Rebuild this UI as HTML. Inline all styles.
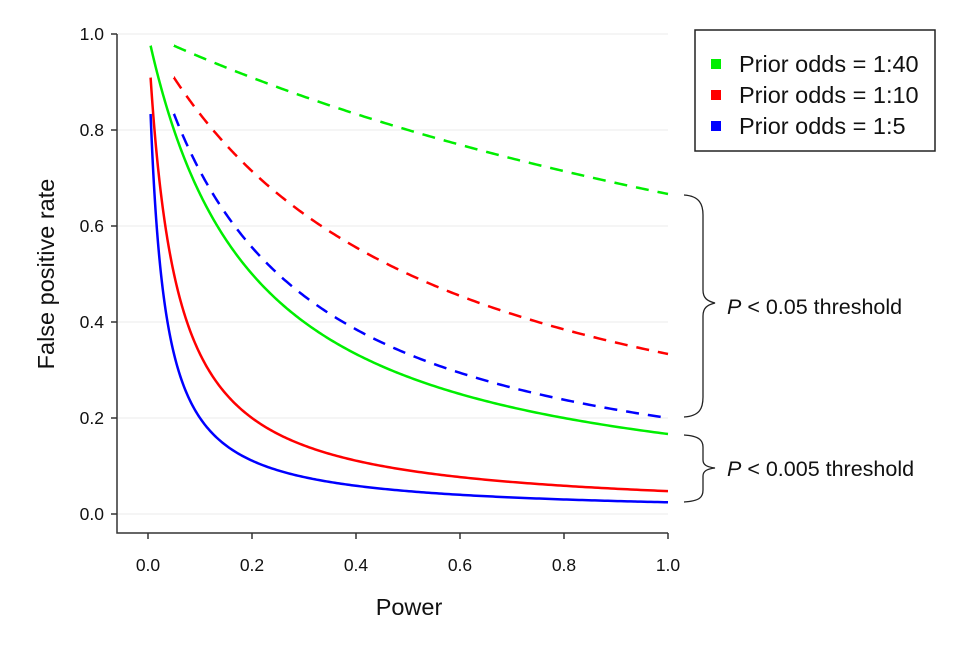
<!DOCTYPE html>
<html><head><style>body{margin:0;background:#fff}svg{display:block}text{font-family:"Liberation Sans",Arial,sans-serif;fill:#111}</style></head>
<body>
<svg id="s" width="974" height="650" xmlns="http://www.w3.org/2000/svg">
<g stroke="#ebebeb" stroke-width="1">
<line x1="118" x2="668" y1="34" y2="34"/><line x1="118" x2="668" y1="130" y2="130"/><line x1="118" x2="668" y1="226" y2="226"/><line x1="118" x2="668" y1="322" y2="322"/><line x1="118" x2="668" y1="418" y2="418"/><line x1="118" x2="668" y1="514" y2="514"/>
</g>
<g stroke="#333" stroke-width="1.5" fill="none">
<polyline points="117,34 117,533 668,533"/>
<line x1="111" x2="117" y1="34" y2="34"/><line x1="111" x2="117" y1="130" y2="130"/><line x1="111" x2="117" y1="226" y2="226"/><line x1="111" x2="117" y1="322" y2="322"/><line x1="111" x2="117" y1="418" y2="418"/><line x1="111" x2="117" y1="514" y2="514"/>
<line x1="148" x2="148" y1="533" y2="539"/><line x1="252" x2="252" y1="533" y2="539"/><line x1="356" x2="356" y1="533" y2="539"/><line x1="460" x2="460" y1="533" y2="539"/><line x1="564" x2="564" y1="533" y2="539"/><line x1="668" x2="668" y1="533" y2="539"/>
</g>
<g font-size="17.5" text-anchor="end">
<text x="104" y="40">1.0</text><text x="104" y="136">0.8</text><text x="104" y="232">0.6</text><text x="104" y="328">0.4</text><text x="104" y="424">0.2</text><text x="104" y="520">0.0</text>
</g>
<g font-size="17.5" text-anchor="middle">
<text x="148" y="571">0.0</text><text x="252" y="571">0.2</text><text x="356" y="571">0.4</text><text x="460" y="571">0.6</text><text x="564" y="571">0.8</text><text x="668" y="571">1.0</text>
</g>
<text x="409" y="615" font-size="23.5" text-anchor="middle">Power</text>
<text transform="translate(54,274) rotate(-90)" font-size="23.5" text-anchor="middle">False positive rate</text>
<g id="curves" fill="none" stroke-width="2.5"></g>
<rect x="695" y="30" width="240" height="121" fill="#fff" stroke="#222" stroke-width="1.5"/>
<rect x="711" y="59" width="10" height="10" fill="#00ee00"/><text x="739" y="72" font-size="23.5">Prior odds = 1:40</text>
<rect x="711" y="90" width="10" height="10" fill="#ff0000"/><text x="739" y="103" font-size="23.5">Prior odds = 1:10</text>
<rect x="711" y="121" width="10" height="10" fill="#0000ff"/><text x="739" y="134" font-size="23.5">Prior odds = 1:5</text>
<g fill="none" stroke="#222" stroke-width="1.3">
<path d="M684,195 C700,196 703,205 703,215 L703,290 C703,298 707,301 715,303 C707,305 703,308 703,316 L703,397 C703,408 700,416 684,417"/>
<path d="M684,435 C700,436 703,441 703,447 L703,460 C703,465 707,467 715,468 C707,469 703,471 703,476 L703,490 C703,497 700,501 684,502"/>
</g>
<text x="727" y="314" font-size="21.5"><tspan font-style="italic">P</tspan> &lt; 0.05 threshold</text>
<text x="727" y="476" font-size="21.5"><tspan font-style="italic">P</tspan> &lt; 0.005 threshold</text>
</svg>
<script>
var g=document.getElementById('curves');
function X(p){return 148+520*p}function Y(v){return 514-480*v}
function add(a,o,p0,col,dash){var d='';for(var i=0;i<=300;i++){var p=p0+(1-p0)*Math.pow(i/300,2);var v=a/(a+p*o);d+=(i?'L':'M')+X(p).toFixed(2)+','+Y(v).toFixed(2);}
var e=document.createElementNS('http://www.w3.org/2000/svg','path');e.setAttribute('d',d);e.setAttribute('stroke',col);if(dash)e.setAttribute('stroke-dasharray','13,9');g.appendChild(e);}
add(0.05,1/40,0.05,'#00ee00',1);add(0.05,0.1,0.05,'#ff0000',1);add(0.05,0.2,0.05,'#0000ff',1);
add(0.005,1/40,0.005,'#00ee00',0);add(0.005,0.1,0.005,'#ff0000',0);add(0.005,0.2,0.005,'#0000ff',0);
</script>
</body></html>
